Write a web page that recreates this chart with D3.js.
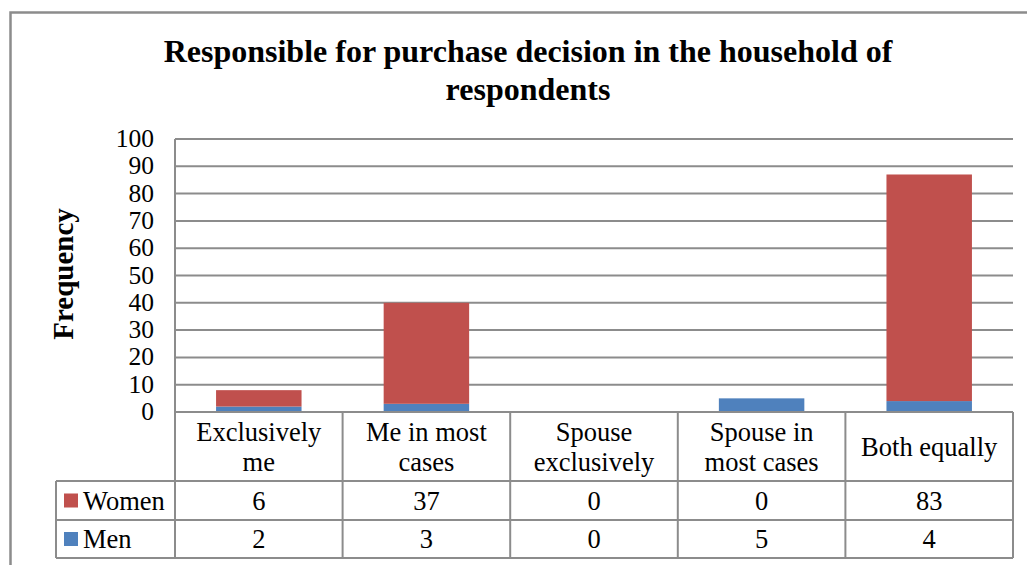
<!DOCTYPE html>
<html>
<head>
<meta charset="utf-8">
<script src="https://cdn.jsdelivr.net/npm/d3@7"></script>
<style>
  body { margin: 0; background: #fff; }
</style>
</head>
<body>
<div id="chart"></div>
<script>
// chart data
const categories = ["Exclusively me", "Me in most cases", "Spouse exclusively", "Spouse in most cases", "Both equally"];
const categoryLines = [["Exclusively", "me"], ["Me in most", "cases"], ["Spouse", "exclusively"], ["Spouse in", "most cases"], ["Both equally"]];
const women = [6, 37, 0, 0, 83];
const men = [2, 3, 0, 5, 4];
const seriesNames = ["Women", "Men"];
const seriesColors = ["#C0504D", "#4F81BD"];
const yTicks = [0, 10, 20, 30, 40, 50, 60, 70, 80, 90, 100];

const width = 1027, height = 565;
const svg = d3.select("#chart").append("svg")
    .attr("width", width)
    .attr("height", height)
    .style("display", "block")
    .attr("font-family", "'Liberation Serif', 'Times New Roman', Times, 'DejaVu Serif', serif");

// outer frame (left and top edges visible)
svg.append("path")
    .attr("d", "M10.5,565 V12.5 H1027")
    .attr("fill", "none")
    .attr("stroke", "#8c8c8c")
    .attr("stroke-width", 2.5);

// title
svg.append("text")
    .attr("x", 528).attr("y", 62)
    .attr("text-anchor", "middle")
    .attr("font-size", 32).attr("font-weight", "bold")
    .text("Responsible for purchase decision in the household of");
svg.append("text")
    .attr("x", 528).attr("y", 100)
    .attr("text-anchor", "middle")
    .attr("font-size", 32).attr("font-weight", "bold")
    .text("respondents");

// plot area
const plot = { left: 175, right: 1013, top: 139, bottom: 412 };
const x = d3.scaleBand().domain(categories).range([plot.left, plot.right])
    .paddingInner(0.49).paddingOuter(0.245);
const y = d3.scaleLinear().domain([0, 100]).range([plot.bottom, plot.top]);
const step = x.step();

// gridlines
svg.append("g").selectAll("line")
    .data(yTicks)
    .join("line")
    .attr("x1", plot.left).attr("x2", plot.right)
    .attr("y1", d => y(d)).attr("y2", d => y(d))
    .attr("stroke", "#8c8c8c")
    .attr("stroke-width", 2);

// y tick labels
svg.append("g").selectAll("text")
    .data(yTicks)
    .join("text")
    .attr("x", 154)
    .attr("y", d => y(d) + 8)
    .attr("text-anchor", "end")
    .attr("font-size", 25.5)
    .text(d => d);

// y axis title
svg.append("text")
    .attr("transform", "translate(73,274) rotate(-90)")
    .attr("text-anchor", "middle")
    .attr("font-size", 29).attr("font-weight", "bold")
    .text("Frequency");

// stacked bars
const rows = categories.map((c, i) => ({ cat: c, Men: men[i], Women: women[i] }));
const stack = d3.stack().keys(["Men", "Women"])(rows);
const colorOf = { Women: seriesColors[0], Men: seriesColors[1] };
svg.append("g").selectAll("g")
    .data(stack)
    .join("g")
    .attr("fill", d => colorOf[d.key])
    .selectAll("rect")
    .data(d => d)
    .join("rect")
    .attr("x", d => x(d.data.cat))
    .attr("width", x.bandwidth())
    .attr("y", d => y(d[1]))
    .attr("height", d => y(d[0]) - y(d[1]));

// data table
const rowTop = [plot.bottom, 481, 520, 558];
const tableLeft = 56;
const grid = svg.append("g").attr("stroke", "#8c8c8c").attr("stroke-width", 2);
// horizontal lines
grid.append("line").attr("x1", plot.left).attr("x2", plot.right).attr("y1", rowTop[0]).attr("y2", rowTop[0]);
rowTop.slice(1).forEach(yy => {
  grid.append("line").attr("x1", tableLeft).attr("x2", plot.right).attr("y1", yy).attr("y2", yy);
});
// vertical lines
grid.append("line").attr("x1", tableLeft).attr("x2", tableLeft).attr("y1", rowTop[1]).attr("y2", rowTop[3]);
d3.range(categories.length + 1).forEach(i => {
  const xx = plot.left + i * step;
  grid.append("line").attr("x1", xx).attr("x2", xx)
      .attr("y1", i === 0 ? plot.top : rowTop[0]).attr("y2", rowTop[3]);
});

// category header text
categoryLines.forEach((lines, i) => {
  const cx = plot.left + (i + 0.5) * step;
  const t = svg.append("text").attr("text-anchor", "middle").attr("font-size", 26.5);
  if (lines.length === 2) {
    t.append("tspan").attr("x", cx).attr("y", 441).text(lines[0]);
    t.append("tspan").attr("x", cx).attr("y", 471).text(lines[1]);
  } else {
    t.append("tspan").attr("x", cx).attr("y", 456).text(lines[0]);
  }
});

// series rows
[women, men].forEach((vals, r) => {
  const yMid = (rowTop[r + 1] + rowTop[r + 2]) / 2;
  svg.append("rect")
      .attr("x", 64).attr("y", yMid - 7)
      .attr("width", 14).attr("height", 14)
      .attr("fill", seriesColors[r]);
  svg.append("text")
      .attr("x", 83).attr("y", yMid + 9)
      .attr("font-size", 26.5)
      .text(seriesNames[r]);
  vals.forEach((v, i) => {
    svg.append("text")
        .attr("x", plot.left + (i + 0.5) * step)
        .attr("y", yMid + 9)
        .attr("text-anchor", "middle")
        .attr("font-size", 26.5)
        .text(v);
  });
});
</script>
</body>
</html>
